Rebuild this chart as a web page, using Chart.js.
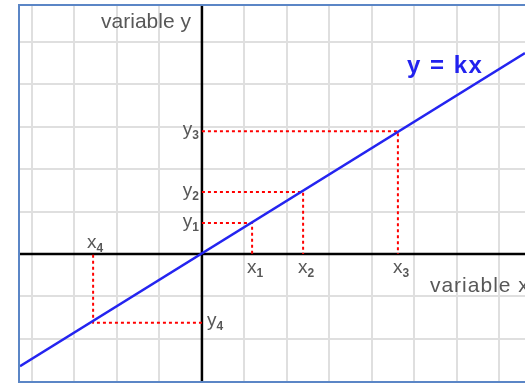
<!DOCTYPE html>
<html>
<head>
<meta charset="utf-8">
<script src="https://cdn.jsdelivr.net/npm/chart.js@4"></script>
<style>
  html, body { margin: 0; padding: 0; background: #fff; overflow: hidden; }
  #frame {
    position: absolute; left: 18px; top: 4px;
    width: 507px; height: 375px;
    border: 2px solid #5b86c6; border-right: none;
    overflow: hidden;
  }
  #graph { display: block; }
</style>
</head>
<body>
<div id="frame"><canvas id="graph" width="505" height="375"></canvas></div>
<script>
// visible range of the two axes (one grid square = 1 unit)
const xRange = [-4.28, 7.6];
const yRange = [-2.99, 5.84];
const gridX = [-4, -3, -2, -1, 0, 1, 2, 3, 4, 5, 6, 7];
const gridY = [-2, -1, 0, 1, 2, 3, 4, 5];

// the marked points x1..x4 / y1..y4
const pointNames = ['1', '2', '3', '4'];
const xValues = [1.18, 2.38, 4.61, -2.56];
const yValues = [0.73, 1.46, 2.89, -1.62];

// the line y = kx, read at the left and right edge
const lineX = [-4.28, 7.6];
const lineY = [-2.64, 4.73];

const axisTitleX = 'variable x';
const axisTitleY = 'variable y';
const lineTitle = 'y = kx';

document.addEventListener('DOMContentLoaded', () => {

    const font = '"Liberation Sans", Arial, sans-serif';

    function drawSub(ctx, letter, sub, left, base) {
        ctx.font = '19px ' + font;
        ctx.fillText(letter, left, base);
        const w = ctx.measureText(letter).width;
        ctx.font = 'bold 12px ' + font;
        ctx.fillText(sub, left + w, base + 4);
    }

    function subWidth(ctx, letter, sub) {
        ctx.font = '19px ' + font;
        const w = ctx.measureText(letter).width;
        ctx.font = 'bold 12px ' + font;
        return w + ctx.measureText(sub).width;
    }

    const labelsPlugin = {
        id: 'labels',
        afterDatasetsDraw(chart) {
            const { ctx, scales: { x, y } } = chart;
            const ox = x.getPixelForValue(0);
            const oy = y.getPixelForValue(0);
            ctx.save();
            ctx.textAlign = 'left';
            ctx.textBaseline = 'alphabetic';
            ctx.fillStyle = '#585858';

            xValues.forEach((xv, i) => {
                const px = x.getPixelForValue(xv);
                const py = y.getPixelForValue(yValues[i]);
                if (yValues[i] >= 0) {
                    drawSub(ctx, 'x', pointNames[i], px - 5, oy + 19);
                } else {
                    drawSub(ctx, 'x', pointNames[i], px - 6, oy - 6);
                }
                if (xv >= 0) {
                    const w = subWidth(ctx, 'y', pointNames[i]);
                    drawSub(ctx, 'y', pointNames[i], ox - 3 - w, py + 4);
                } else {
                    drawSub(ctx, 'y', pointNames[i], ox + 5, py + 3);
                }
            });

            ctx.font = '21px ' + font;
            ctx.textAlign = 'right';
            ctx.fillText(axisTitleY, ox - 11, chart.chartArea.top + 22);
            ctx.textAlign = 'left';
            ctx.letterSpacing = '1px';
            ctx.fillText(axisTitleX, ox + 228, oy + 38);

            ctx.font = 'bold 24px ' + font;
            ctx.fillStyle = '#2222ee';
            ctx.letterSpacing = '1.5px';
            ctx.fillText(lineTitle, ox + 205, oy - 181);
            ctx.restore();
        }
    };

    const redSets = xValues.map((xv, i) => ({
        data: [{ x: 0, y: yValues[i] }, { x: xv, y: yValues[i] }, { x: xv, y: 0 }],
        borderColor: '#ff0000',
        borderWidth: 2,
        borderDash: [3, 3],
        pointRadius: 0,
        order: 1
    }));

    const ctxGraph = document.getElementById('graph');
    new Chart(ctxGraph, {
        type: 'line',
        data: {
            datasets: [
                {
                    data: lineX.map((v, i) => ({ x: v, y: lineY[i] })),
                    borderColor: '#2424f0',
                    borderWidth: 2.5,
                    pointRadius: 0,
                    order: 0
                },
                ...redSets,
                {
                    data: [{ x: xRange[0], y: 0 }, { x: xRange[1], y: 0 }],
                    borderColor: '#000',
                    borderWidth: 2.5,
                    pointRadius: 0,
                    order: 2
                },
                {
                    data: [{ x: 0, y: yRange[0] }, { x: 0, y: yRange[1] }],
                    borderColor: '#000',
                    borderWidth: 2.5,
                    pointRadius: 0,
                    order: 2
                }
            ]
        },
        options: {
            responsive: false,
            devicePixelRatio: 1,
            animation: false,
            layout: { padding: 0 },
            plugins: {
                legend: { display: false },
                tooltip: { enabled: false }
            },
            scales: {
                x: {
                    type: 'linear',
                    min: xRange[0],
                    max: xRange[1],
                    afterBuildTicks: s => { s.ticks = gridX.map(v => ({ value: v })); },
                    ticks: { display: false },
                    grid: { color: '#dfdfdf', lineWidth: 2, drawTicks: false },
                    border: { display: false }
                },
                y: {
                    type: 'linear',
                    min: yRange[0],
                    max: yRange[1],
                    afterBuildTicks: s => { s.ticks = gridY.map(v => ({ value: v })); },
                    ticks: { display: false },
                    grid: { color: '#dfdfdf', lineWidth: 2, drawTicks: false },
                    border: { display: false }
                }
            }
        },
        plugins: [labelsPlugin]
    });

});
</script>
</body>
</html>
